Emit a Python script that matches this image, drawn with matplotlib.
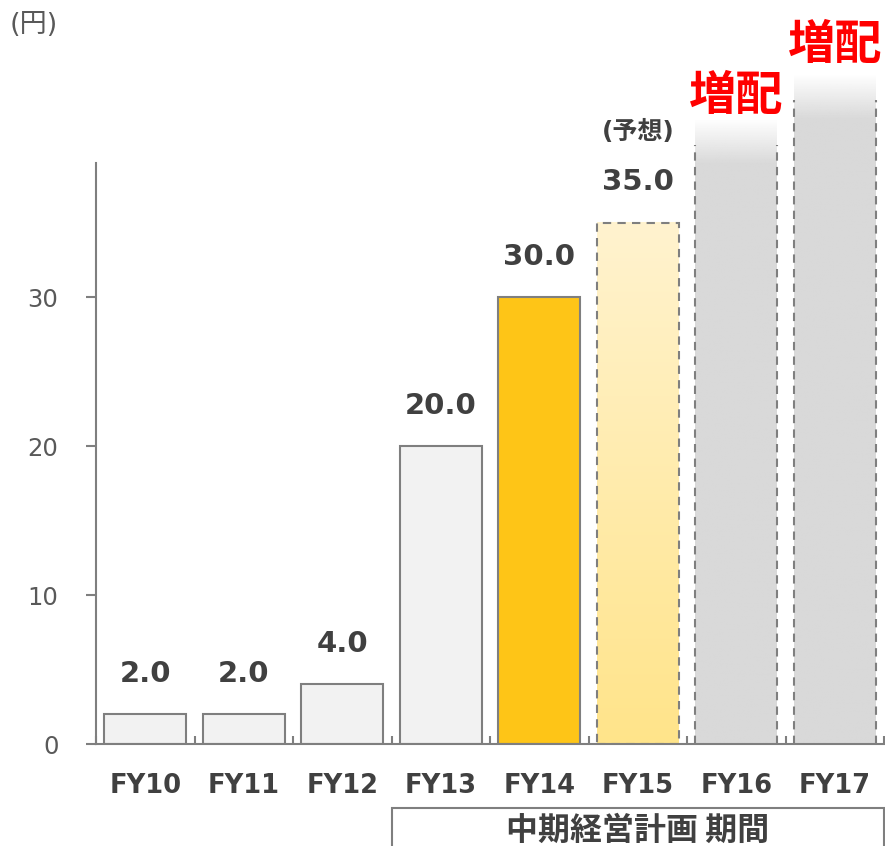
import numpy as np
import matplotlib.pyplot as plt
from matplotlib.patches import Rectangle
from matplotlib.colors import to_rgba

# data
years = ["FY10", "FY11", "FY12", "FY13", "FY14", "FY15", "FY16", "FY17"]
dividends = [2.0, 2.0, 4.0, 20.0, 30.0, 35.0]          # FY10-FY15 (FY15 = forecast)
future_heights = [42.0, 45.0]                            # FY16, FY17 decorative (no value)
value_labels = ["2.0", "2.0", "4.0", "20.0", "30.0", "35.0"]

BAR_W = 0.83
EDGE = "#7F7F7F"
TXT = "#404040"

plt.rcParams['font.family'] = ['DejaVu Sans', 'Noto Sans CJK JP']

fig = plt.figure(figsize=(8.85, 8.46), dpi=100)
ax = fig.add_axes([96 / 885, 102 / 846, 788 / 885, 581 / 846])

x = np.arange(len(years))

# actual bars FY10-FY14
colors = ["#F2F2F2"] * 4 + ["#FEC517"]
ax.bar(x[:5], dividends[:5], width=BAR_W, color=colors, edgecolor=EDGE, linewidth=1.5, zorder=2)

# FY15 forecast: gradient fill, dashed edge
grad = np.linspace(0, 1, 256)[:, None]
c_bot = np.array(to_rgba("#FFE48A"))
c_top = np.array(to_rgba("#FFF3CF"))
img = c_bot[None, None, :] * (1 - grad[:, :, None]) + c_top[None, None, :] * grad[:, :, None]
ax.imshow(img, extent=(x[5] - BAR_W / 2, x[5] + BAR_W / 2, 0, dividends[5]),
          origin="lower", aspect="auto", zorder=1)
ax.bar(x[5], dividends[5], width=BAR_W, fill=False, edgecolor=EDGE, linewidth=1.5,
       linestyle=(0, (4, 3)), zorder=2)

# FY16, FY17: grey bars fading at top
for xi, h in zip(x[6:], future_heights):
    n = 256
    yy = np.linspace(0, h, n)
    fade = 3.0
    alpha = np.clip((h - yy) / fade, 0, 1)
    rgba = np.zeros((n, 1, 4))
    rgba[:, 0, :3] = to_rgba("#D9D9D9")[:3]
    rgba[:, 0, 3] = alpha
    im = ax.imshow(rgba, extent=(xi - BAR_W / 2, xi + BAR_W / 2, 0, h),
                   origin="lower", aspect="auto", zorder=1)
    im.set_clip_on(False)
    ax.vlines([xi - BAR_W / 2, xi + BAR_W / 2], 0, h - fade * 0.6, colors=EDGE,
              linewidth=1.5, linestyles=(0, (4, 3)), zorder=2, clip_on=False)

# value labels
for xi, v, lab in zip(x, dividends, value_labels):
    ax.annotate(lab, (xi, v), xytext=(0, 29), textcoords="offset points",
                ha="center", va="center", fontsize=21, fontweight="bold", color=TXT)
ax.annotate("(予想)", (x[5], dividends[5]), xytext=(0, 65), textcoords="offset points",
            ha="center", va="center", fontsize=18, fontweight="bold", color=TXT)

# 増配 labels
ax.text(x[6], 43.5, "増配", ha="center", va="center", fontsize=34, fontweight="bold",
        color="#FF0000", family=['Noto Sans CJK JP'], clip_on=False)
ax.text(x[7], 46.9, "増配", ha="center", va="center", fontsize=34, fontweight="bold",
        color="#FF0000", family=['Noto Sans CJK JP'], clip_on=False)

# axes styling
ax.set_xlim(-0.5, 7.5)
ax.set_ylim(0, 39)
for s in ["top", "right"]:
    ax.spines[s].set_visible(False)
ax.spines["left"].set_color(EDGE)
ax.spines["bottom"].set_color(EDGE)
ax.spines["left"].set_linewidth(1.5)
ax.spines["bottom"].set_linewidth(1.5)

ax.set_yticks([0, 10, 20, 30])
ax.tick_params(axis="y", length=7, width=1.5, color=EDGE, pad=20, labelsize=17.5, labelcolor="#595959")
ax.set_xticks(x)
ax.set_xticklabels(years, fontsize=18.5, fontweight="bold", color=TXT)
ax.tick_params(axis="x", length=0, pad=21)
ax.set_xticks(np.arange(-0.5, 8, 1), minor=True)
ax.tick_params(axis="x", which="minor", direction="in", length=6, width=1.5, color=EDGE)

# unit label
fig.text(10 / 885, 1 - 25 / 846, "(円)", ha="left", va="center", fontsize=19.5,
         color="#595959")

# mid-term plan box
ax.add_patch(Rectangle((2.5, -8.0), 5.0, 3.7, fill=False, edgecolor=EDGE, linewidth=1.5,
                       clip_on=False))
ax.text(5.0, -5.85, "中期経営計画 期間", ha="center", va="center", fontsize=23,
        fontweight="bold", color=TXT, family=['Noto Sans CJK JP'], clip_on=False)

fig.savefig("out.png", dpi=100)
